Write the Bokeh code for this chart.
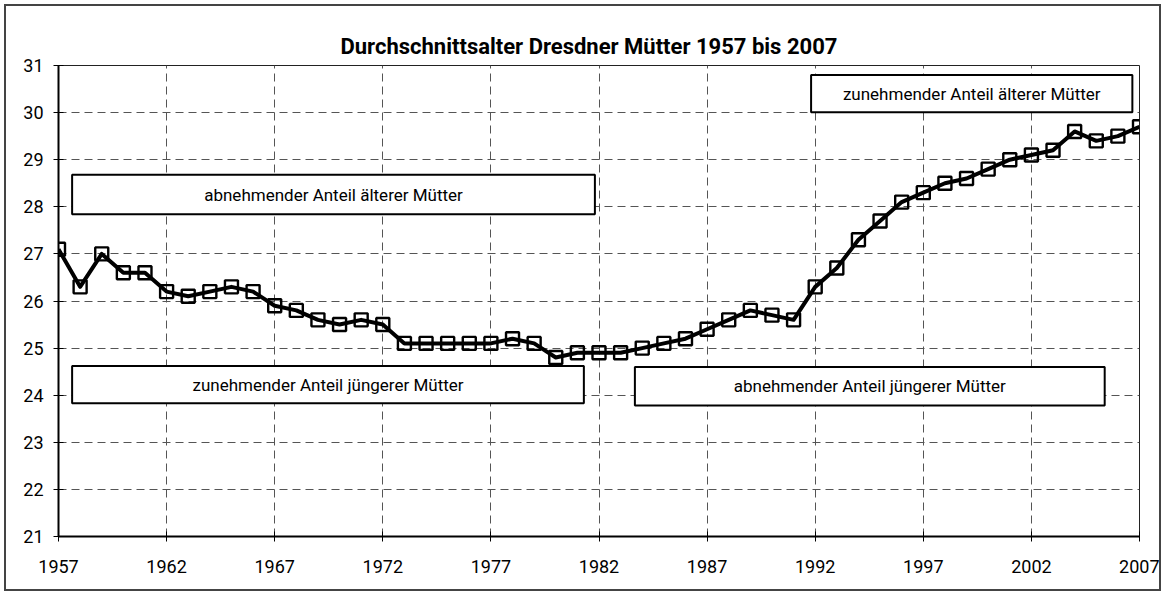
from bokeh.plotting import figure
from bokeh.models import Range1d, FixedTicker
from bokeh.embed import file_html
from bokeh.resources import INLINE
from bokeh.core.properties import value

# ---- data ----
years = list(range(1957, 2008))
age = [27.1, 26.3, 27.0, 26.6, 26.6, 26.2, 26.1, 26.2, 26.3, 26.2,
       25.9, 25.8, 25.6, 25.5, 25.6, 25.5, 25.1, 25.1, 25.1, 25.1,
       25.1, 25.2, 25.1, 24.8, 24.9, 24.9, 24.9, 25.0, 25.1, 25.2,
       25.4, 25.6, 25.8, 25.7, 25.6, 26.3, 26.7, 27.3, 27.7, 28.1,
       28.3, 28.5, 28.6, 28.8, 29.0, 29.1, 29.2, 29.6, 29.4, 29.5, 29.7]
x_ticks = list(range(1957, 2008, 5))
y_ticks = list(range(21, 32))
title_text = "Durchschnittsalter Dresdner Mütter 1957 bis 2007"
note_texts = ["abnehmender Anteil älterer Mütter",
              "zunehmender Anteil jüngerer Mütter",
              "abnehmender Anteil jüngerer Mütter",
              "zunehmender Anteil älterer Mütter"]

# ---- annotation box placement (data coordinates) ----
box_left = [1957.63, 1957.63, 1983.66, 1991.81]
box_right = [1981.81, 1981.30, 2005.39, 2006.67]
box_bottom = [27.84, 23.83, 23.78, 30.01]
box_top = [28.68, 24.62, 24.60, 30.80]

FONT = "Roboto"

p = figure(width=1157, height=587, output_backend="svg", toolbar_location=None,
           x_range=Range1d(1957, 2007), y_range=Range1d(21, 31),
           min_border_left=52, min_border_right=24, min_border_top=59,
           min_border_bottom=57)
p.styles = {"border": "2px solid #444444", "margin-left": "4px", "margin-top": "4px"}
p.outline_line_color = "#222222"
p.outline_line_width = 1

p.title.text = title_text
p.title.align = "left"
p.title.offset = 282
p.title.vertical_align = "top"
p.title.text_font = FONT
p.title.text_font_size = "22px"
p.title.text_font_style = "bold"
p.title.text_color = "black"

for ax in (p.xaxis[0], p.yaxis[0]):
    ax.axis_line_color = "black"
    ax.axis_line_width = 2
    ax.major_tick_line_color = "black"
    ax.major_tick_line_width = 1
    ax.major_tick_in = 5
    ax.major_tick_out = 5
    ax.minor_tick_line_color = None
    ax.major_label_text_font = FONT
    ax.major_label_text_font_size = "18px"
    ax.major_label_text_color = "black"

p.xaxis.ticker = FixedTicker(ticks=x_ticks)
p.yaxis.ticker = FixedTicker(ticks=y_ticks)
p.xaxis.major_label_standoff = 18
p.yaxis.major_label_standoff = 10

p.xgrid.ticker = FixedTicker(ticks=x_ticks)
p.ygrid.ticker = FixedTicker(ticks=y_ticks)
for g in (p.xgrid[0], p.ygrid[0]):
    g.grid_line_color = "#555555"
    g.grid_line_width = 1
    g.grid_line_dash = "8 5"

# series
p.line(years, age, line_color="black", line_width=4, line_join="round")
p.scatter(years, age, marker="square", size=13, fill_alpha=0,
          line_color="black", line_width=2.4)

# annotation boxes
p.quad(left=box_left, right=box_right, bottom=box_bottom, top=box_top,
       fill_color="white", line_color="black", line_width=2)
cx = [(a + b) / 2 for a, b in zip(box_left, box_right)]
cy = [(a + b) / 2 for a, b in zip(box_bottom, box_top)]
p.text(x=cx, y=cy, text=note_texts, text_align="center", text_baseline="middle",
       text_font=value(FONT), text_font_size="17px", text_color="black")

open("out.html", "w").write(file_html(p, INLINE))
